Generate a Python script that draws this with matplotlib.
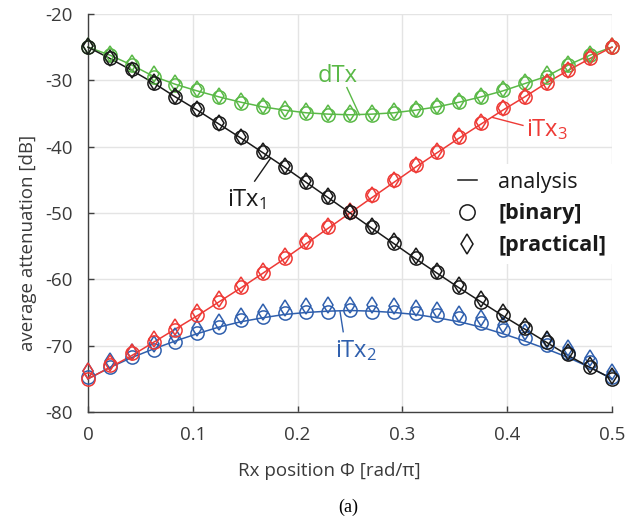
import numpy as np
import matplotlib
matplotlib.use('Agg')
import matplotlib.pyplot as plt
from matplotlib.lines import Line2D

plt.rcParams['font.family'] = ['Open Sans', 'DejaVu Sans']
plt.rcParams['mathtext.default'] = 'regular'
plt.rcParams['axes.unicode_minus'] = False

# Rx position phi [rad/pi], 25 samples
phi = [0.0, 0.0208, 0.0417, 0.0625, 0.0833, 0.1042, 0.125, 0.1458, 0.1667,
       0.1875, 0.2083, 0.2292, 0.25, 0.2708, 0.2917, 0.3125, 0.3333, 0.3542,
       0.375, 0.3958, 0.4167, 0.4375, 0.4583, 0.4792, 0.5]

# iTx1 (black)
itx1_analysis = [-25.0, -26.7, -28.5, -30.4, -32.5, -34.5, -36.6, -38.7, -40.9, -43.1, -45.4, -47.7,
                 -50.0, -52.3, -54.6, -56.9, -59.1, -61.3, -63.4, -65.5, -67.5, -69.5, -71.5, -73.3, -75.0]
itx1_binary = [-25.0, -26.6, -28.3, -30.4, -32.5, -34.3, -36.5, -38.5, -40.8, -43.0, -45.3, -47.6,
               -49.9, -52.1, -54.5, -56.8, -58.9, -61.2, -63.4, -65.4, -67.4, -69.5, -71.2, -73.2, -75.0]
itx1_practical = [-24.9, -26.7, -28.4, -30.3, -32.3, -34.3, -36.4, -38.5, -40.7, -42.9, -45.2, -47.5,
                  -49.8, -52.0, -54.3, -56.5, -58.7, -60.9, -63.0, -65.0, -67.0, -69.0, -71.0, -72.9, -74.6]

# iTx3 (red)
itx3_analysis = [-75.0, -73.3, -71.5, -69.5, -67.5, -65.5, -63.4, -61.3, -59.1, -56.9, -54.6, -52.3,
                 -50.0, -47.7, -45.4, -43.1, -40.9, -38.7, -36.6, -34.5, -32.5, -30.4, -28.5, -26.7, -25.0]
itx3_binary = [-75.0, -72.9, -71.1, -69.5, -67.7, -65.4, -63.4, -61.2, -59.1, -56.8, -54.4, -52.1,
               -49.9, -47.3, -45.0, -42.8, -40.8, -38.5, -36.5, -34.2, -32.5, -30.4, -28.4, -26.6, -25.0]
itx3_practical = [-73.8, -72.6, -70.9, -69.0, -67.2, -65.0, -63.0, -60.9, -58.8, -56.5, -54.2, -51.9,
                  -49.7, -47.3, -45.0, -42.7, -40.6, -38.4, -36.3, -34.2, -32.3, -30.3, -28.4, -26.5, -24.9]

# dTx (green)
dtx_analysis = [-25.0, -26.2, -27.7, -29.4, -30.6, -31.6, -32.5, -33.3, -34.0, -34.5, -34.9, -35.1,
                -35.2, -35.1, -34.9, -34.5, -34.0, -33.3, -32.5, -31.6, -30.5, -29.4, -27.7, -26.2, -25.0]
dtx_binary = [-25.0, -26.2, -27.7, -29.5, -30.7, -31.5, -32.5, -33.4, -34.0, -34.8, -35.0, -35.2,
              -35.2, -35.2, -34.9, -34.5, -34.0, -33.3, -32.5, -31.5, -30.4, -29.5, -27.7, -26.2, -25.0]
dtx_practical = [-24.8, -26.0, -27.4, -29.1, -30.4, -31.3, -32.3, -33.1, -33.8, -34.4, -34.7, -34.9,
                 -35.0, -34.9, -34.7, -34.3, -33.8, -33.1, -32.3, -31.3, -30.2, -29.1, -27.5, -26.0, -24.8]

# iTx2 (blue)
itx2_analysis = [-75.0, -73.3, -71.8, -70.5, -69.3, -68.2, -67.2, -66.4, -65.8, -65.3, -65.0, -64.8,
                 -64.7, -64.8, -65.0, -65.3, -65.8, -66.4, -67.2, -68.2, -69.3, -70.5, -71.8, -73.3, -75.0]
itx2_binary = [-74.8, -73.2, -71.7, -70.7, -69.5, -68.1, -67.2, -66.2, -65.7, -65.1, -64.9, -64.9,
               -64.7, -64.9, -64.9, -65.1, -65.4, -65.9, -66.6, -67.7, -68.9, -69.9, -71.1, -72.5, -74.8]
itx2_practical = [-73.8, -72.3, -70.9, -69.8, -68.6, -67.4, -66.4, -65.5, -64.9, -64.3, -64.0, -63.9,
                  -63.8, -63.9, -64.0, -64.3, -64.7, -65.2, -65.9, -66.9, -68.0, -69.1, -70.4, -71.9, -73.9]

series = [
    ('#5ab947', dtx_analysis, dtx_binary, dtx_practical),
    ('#2f5fad', itx2_analysis, itx2_binary, itx2_practical),
    ('#ee3a36', itx3_analysis, itx3_binary, itx3_practical),
    ('#1a1a1a', itx1_analysis, itx1_binary, itx1_practical),
]

axis_col = '#404040'

fig = plt.figure(figsize=(6.36, 5.19), dpi=100)
ax = fig.add_axes([0.1384, 0.2062, 0.8239, 0.7669])

for col, ana, binr, prac in series:
    ax.plot(phi, ana, color=col, lw=1.1, zorder=3, clip_on=False)
    ax.plot(phi, binr, ls='none', marker='o', ms=9.5, mfc='none', mec=col, mew=1.1,
            zorder=4, clip_on=False)
    ax.plot(phi, prac, ls='none', marker='d', ms=8.5, mfc='none', mec=col, mew=1.1,
            zorder=4, clip_on=False)

ax.set_xlim(0, 0.5)
ax.set_ylim(-80, -20)
ax.set_xticks([0, 0.1, 0.2, 0.3, 0.4, 0.5])
ax.set_xticklabels(['0', '0.1', '0.2', '0.3', '0.4', '0.5'])
ax.set_yticks(range(-80, -19, 10))
ax.grid(True, color='#e4e4e4', lw=1.0)
ax.set_axisbelow(True)
ax.spines['top'].set_visible(False)
ax.spines['right'].set_visible(False)
for s in ['left', 'bottom']:
    ax.spines[s].set_color(axis_col)
    ax.spines[s].set_linewidth(1.0)
ax.tick_params(direction='in', length=4, width=1.0, color=axis_col,
               labelcolor='#3a3a3a', labelsize=13.5)
ax.tick_params(axis='y', pad=11)
ax.tick_params(axis='x', pad=10)

ax.set_xlabel('Rx position \u03a6 [rad/\u03c0]', fontsize=13.5, color='#3a3a3a', va='center')
ax.xaxis.set_label_coords(0.46, -0.148)
ax.set_ylabel('average attenuation [dB]', fontsize=13.5, color='#3a3a3a', va='center')
ax.yaxis.set_label_coords(-0.115, 0.425)

# curve labels with leader lines
ax.text(0.238, -30.3, 'dTx', color='#5ab947', fontsize=17, ha='center', va='baseline')
ax.plot([0.247, 0.259], [-31.1, -35.2], color='#5ab947', lw=1.0)
ax.text(0.133, -49.0, 'iTx$_1$', color='#1a1a1a', fontsize=17, ha='left', va='baseline')
ax.plot([0.159, 0.174], [-45.2, -41.8], color='#1a1a1a', lw=1.0)
ax.text(0.418, -38.4, 'iTx$_3$', color='#ee3a36', fontsize=17, ha='left', va='baseline')
ax.plot([0.386, 0.415], [-35.6, -36.8], color='#ee3a36', lw=1.0)
ax.text(0.236, -71.7, 'iTx$_2$', color='#2f5fad', fontsize=17, ha='left', va='baseline')
ax.plot([0.2405, 0.2435], [-64.9, -67.9], color='#2f5fad', lw=1.0)

handles = [Line2D([], [], color='#1a1a1a', lw=1.1),
           Line2D([], [], ls='none', marker='o', ms=11, mfc='none', mec='#1a1a1a', mew=1.1),
           Line2D([], [], ls='none', marker='d', ms=10, mfc='none', mec='#1a1a1a', mew=1.1)]
leg = ax.legend(handles, ['analysis', '[binary]', '[practical]'],
                loc='upper left', bbox_to_anchor=(450 / 636, 1 - 164 / 519),
                bbox_transform=fig.transFigure, borderaxespad=0, borderpad=0.35,
                fontsize=15.5, handlelength=0.9, handletextpad=1.0, labelspacing=0.5,
                frameon=True, fancybox=False, framealpha=1, facecolor='white',
                edgecolor='none')
leg.set_zorder(10)
for t in leg.get_texts():
    t.set_color('#1a1a1a')
leg.get_texts()[1].set_fontweight('bold')
leg.get_texts()[2].set_fontweight('bold')

fig.text(0.547, 1 - 507 / 519, '(a)', family='Liberation Serif', fontsize=13,
         ha='center', va='center')

fig.savefig('out.png', dpi=100)
